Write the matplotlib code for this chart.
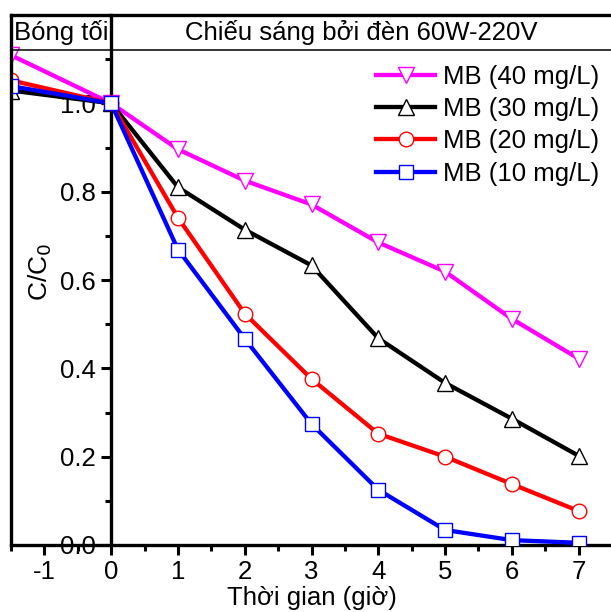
import matplotlib
matplotlib.use("Agg")
import matplotlib.pyplot as plt
from matplotlib.ticker import MultipleLocator

plt.rcParams.update({
    "font.family": ["Liberation Sans", "DejaVu Sans"],
    "font.size": 18.5,
    "axes.unicode_minus": False,
})

# ── Data ──────────────────────────────────────────────────────
time = [-1.5, 0, 1, 2, 3, 4, 5, 6, 7]
mb40 = [1.109, 1.0, 0.896, 0.825, 0.771, 0.685, 0.619, 0.512, 0.422]
mb30 = [1.029, 1.0, 0.810, 0.714, 0.633, 0.468, 0.367, 0.286, 0.202]
mb20 = [1.052, 1.0, 0.741, 0.524, 0.376, 0.252, 0.200, 0.138, 0.077]
mb10 = [1.039, 1.0, 0.669, 0.467, 0.274, 0.125, 0.034, 0.011, 0.005]
labels = ["MB (40 mg/L)", "MB (30 mg/L)", "MB (20 mg/L)", "MB (10 mg/L)"]
header_dark = "Bóng tối"
header_light = "Chiếu sáng bởi đèn 60W-220V"

series = [
    (mb40, "#FF00FF", "v", 12),
    (mb30, "black", "^", 12),
    (mb20, "red", "o", 10.5),
    (mb10, "blue", "s", 9.5),
]

fig = plt.figure(figsize=(6.11, 6.12), dpi=100)
ax = fig.add_axes([11 / 611, 67 / 612, 601 / 611, 530 / 612])

for (vals, col, mk, ms), lab in zip(series, labels):
    ax.plot(time, vals, color=col, lw=3.1, marker=mk, ms=ms,
            mfc="white", mec=col, mew=1.0, label=lab, zorder=3)

ax.set_xlim(-1.5, 7.5)
ax.set_ylim(0, 1.2)

# y axis sits at x = 0 (Origin style)
ax.spines["left"].set_position(("data", 0))
ax.spines["right"].set_visible(False)
for s in ("left", "bottom", "top"):
    ax.spines[s].set_linewidth(2.4)
ax.axvline(-1.5, color="black", lw=2.4, clip_on=False, zorder=4)
ax.axhline(1.12, color="black", lw=1.1, zorder=4)

ax.set_xticks([-1, 0, 1, 2, 3, 4, 5, 6, 7])
ax.xaxis.set_minor_locator(MultipleLocator(0.5))
ax.set_yticks([0.0, 0.2, 0.4, 0.6, 0.8, 1.0])
ax.set_yticklabels(["0.0", "0.2", "0.4", "0.6", "0.8", "1.0"])
ax.yaxis.set_minor_locator(MultipleLocator(0.1))
ax.tick_params(which="major", direction="out", length=7, width=2.2,
               labelsize=18.5, pad=4)
ax.tick_params(which="minor", direction="out", length=4, width=2.2)
ax.tick_params(axis="x", top=False, which="both")

ax.set_xlabel("Thời gian (giờ)", fontsize=18.5, labelpad=1)
fig.text(40 / 611, 1 - 272 / 612, "C/C$_0$", rotation=90, ha="center",
         va="center", fontsize=19)

ax.text(-0.75, 1.16, header_dark, ha="center", va="center", fontsize=18.5)
ax.text(3.75, 1.16, header_light, ha="center", va="center", fontsize=18.5)

ax.legend(loc="upper right", bbox_to_anchor=(1.0, 0.93), frameon=False,
          fontsize=18.5, handlelength=2.3, handletextpad=0.3, labelspacing=0.32,
          borderaxespad=0.1)

fig.savefig("out.png", dpi=100, facecolor="white")
